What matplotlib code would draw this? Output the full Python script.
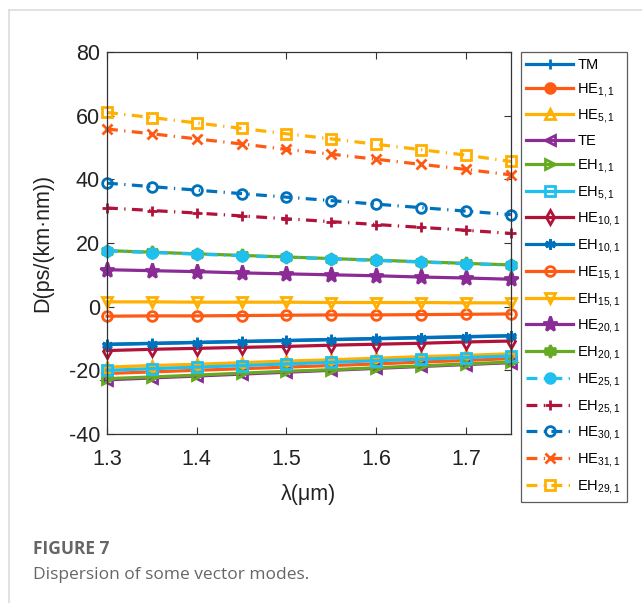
import matplotlib
matplotlib.use("Agg")
import matplotlib.pyplot as plt
import numpy as np

lam = [1.30, 1.35, 1.40, 1.45, 1.50, 1.55, 1.60, 1.65, 1.70, 1.75]

# dispersion values, ps/(km nm)
TM     = [-11.8, -11.5, -11.2, -10.9, -10.6, -10.3, -10.0, -9.7, -9.4, -9.1]
HE11   = [-21.0, -20.5, -20.0, -19.5, -19.0, -18.5, -18.0, -17.4, -16.9, -16.3]
HE51   = [-19.0, -18.5, -18.1, -17.6, -17.1, -16.7, -16.2, -15.7, -15.3, -14.8]
TE     = [-23.0, -22.4, -21.8, -21.2, -20.6, -20.0, -19.4, -18.8, -18.2, -17.6]
EH11   = [-22.6, -22.1, -21.5, -20.9, -20.3, -19.8, -19.2, -18.6, -18.0, -17.4]
EH51   = [-20.0, -19.5, -19.0, -18.5, -18.0, -17.5, -17.0, -16.5, -16.0, -15.5]
HE101  = [-13.8, -13.4, -13.1, -12.8, -12.5, -12.1, -11.8, -11.5, -11.1, -10.8]
EH101  = [-11.9, -11.6, -11.3, -11.0, -10.7, -10.4, -10.1, -9.8, -9.5, -9.2]
HE151  = [-3.0, -2.9, -2.9, -2.8, -2.7, -2.6, -2.6, -2.5, -2.4, -2.3]
EH151  = [1.5, 1.5, 1.4, 1.4, 1.4, 1.3, 1.3, 1.3, 1.2, 1.2]
HE201  = [11.6, 11.3, 11.0, 10.6, 10.3, 10.0, 9.7, 9.3, 9.0, 8.6]
EH201  = [17.6, 17.1, 16.6, 16.1, 15.6, 15.1, 14.6, 14.1, 13.6, 13.1]
HE251  = [17.5, 17.0, 16.5, 16.0, 15.5, 15.0, 14.5, 14.0, 13.5, 13.0]
EH251  = [31.0, 30.2, 29.4, 28.5, 27.6, 26.7, 25.8, 24.9, 24.0, 23.0]
HE301  = [38.8, 37.7, 36.6, 35.5, 34.4, 33.3, 32.2, 31.1, 30.0, 28.9]
HE311  = [55.8, 54.3, 52.7, 51.1, 49.4, 47.9, 46.3, 44.7, 43.1, 41.4]
EH291  = [61.0, 59.4, 57.7, 56.0, 54.3, 52.7, 51.0, 49.3, 47.6, 45.6]

blue = '#0072BD'
orange = '#FF5A14'
yellow = '#FFB000'
purple = '#8B2C96'
green = '#66AA22'
cyan = '#1EC0F0'
red = '#B0123A'

asterisk = (6, 2, 0)
hexagram = (6, 1, 0)

# label, data, color, marker, filled, linestyle
series = [
    ('TM', TM, blue, '+', True, '-'),
    ('HE$_{1,1}$', HE11, orange, 'o', True, '-'),
    ('HE$_{5,1}$', HE51, yellow, '^', False, '-'),
    ('TE', TE, purple, '<', False, '-'),
    ('EH$_{1,1}$', EH11, green, '>', False, '-'),
    ('EH$_{5,1}$', EH51, cyan, 's', False, '-'),
    ('HE$_{10,1}$', HE101, red, 'd', False, '-'),
    ('EH$_{10,1}$', EH101, blue, asterisk, True, '-'),
    ('HE$_{15,1}$', HE151, orange, 'o', False, '-'),
    ('EH$_{15,1}$', EH151, yellow, 'v', False, '-'),
    ('HE$_{20,1}$', HE201, purple, '*', True, '-'),
    ('EH$_{20,1}$', EH201, green, hexagram, True, '-'),
    ('HE$_{25,1}$', HE251, cyan, 'o', True, '-.'),
    ('EH$_{25,1}$', EH251, red, '+', True, '-.'),
    ('HE$_{30,1}$', HE301, blue, 'o', False, '-.'),
    ('HE$_{31,1}$', HE311, orange, 'x', True, '-.'),
    ('EH$_{29,1}$', EH291, yellow, 's', False, '-.'),
]

plt.rcParams['font.family'] = ['Liberation Sans', 'DejaVu Sans']
plt.rcParams['mathtext.fontset'] = 'custom'
plt.rcParams['mathtext.rm'] = 'Liberation Sans'
plt.rcParams['mathtext.it'] = 'Liberation Sans:italic'
plt.rcParams['axes.unicode_minus'] = False

fig = plt.figure(figsize=(6.42, 6.03), dpi=100)
ax = fig.add_axes([0.1667, 0.2803, 0.629, 0.6335])

for name, y, col, mk, filled, ls in series:
    ms = 7
    if mk == '*':
        ms = 11
    elif mk == hexagram:
        ms = 9
    elif mk in ('+', 'x', asterisk):
        ms = 7.5
    ax.plot(lam, y, linestyle=ls, color=col, marker=mk, markersize=ms,
            markerfacecolor=col if filled else 'none', markeredgecolor=col,
            markeredgewidth=2.0, linewidth=2.3, label=name, clip_on=False,
            dashes=(3.4, 2.0, 0.4, 2.0) if ls == '-.' else (None, None))

ax.set_xlim(1.3, 1.75)
ax.set_ylim(-40, 80)
ax.set_xticks([1.3, 1.4, 1.5, 1.6, 1.7])
ax.set_yticks([-40, -20, 0, 20, 40, 60, 80])
ax.tick_params(direction='in', top=True, right=True, labelsize=15.5, length=5,
               color='#333333', labelcolor='#222222')
ax.tick_params(axis='x', pad=11)
ax.tick_params(axis='y', pad=5)
for s in ax.spines.values():
    s.set_color('#333333')
    s.set_linewidth(0.9)

ax.set_xlabel('\u03bb(\u03bcm)', fontsize=15.5, color='#222222', labelpad=10)
ax.set_ylabel('D(ps/(km\u00b7nm))', fontsize=15.5, color='#222222', labelpad=11)

leg = ax.legend(loc='upper left', bbox_to_anchor=(1.024, 1.0), fontsize=10.5,
                frameon=True, fancybox=False, edgecolor='#333333',
                handlelength=3.2, handletextpad=0.3, labelspacing=0.6,
                borderpad=0.4, borderaxespad=0)
leg.get_frame().set_linewidth(0.9)

# card frame and caption
fig.add_artist(plt.Line2D([9 / 642, 1], [1 - 10 / 603, 1 - 10 / 603],
                          color='#dddddd', linewidth=1.2))
fig.add_artist(plt.Line2D([9 / 642, 9 / 642], [0, 1 - 10 / 603],
                          color='#dddddd', linewidth=1.2))
fig.text(33 / 642, 1 - 549 / 603, 'FIGURE 7', fontsize=12.5, fontweight='bold',
         color='#666666', family='Open Sans', va='center')
fig.text(33 / 642, 1 - 575 / 603, 'Dispersion of some vector modes.', fontsize=12.5,
         color='#666666', family='Open Sans', va='center')

fig.savefig('out.png', dpi=100)
